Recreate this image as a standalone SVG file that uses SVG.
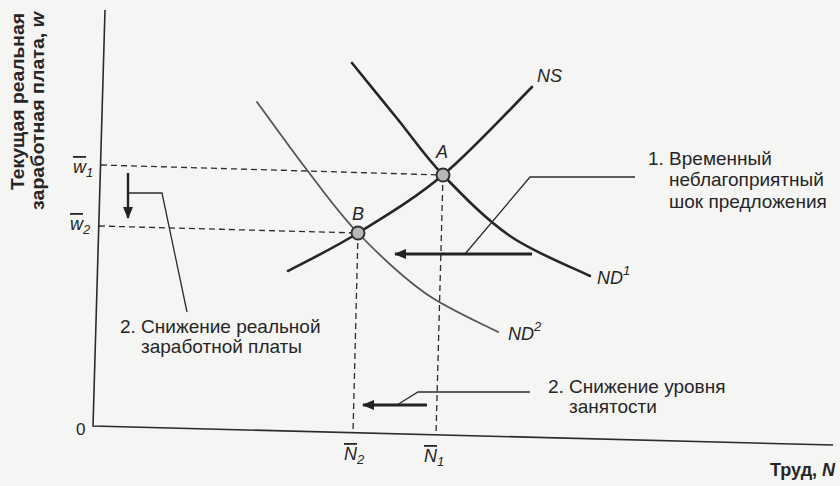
<svg xmlns="http://www.w3.org/2000/svg" width="840" height="486" viewBox="0 0 840 486">
<defs>
<style>
.bg{fill:#f5f5f4}
.axis{stroke:#2b2b2b;stroke-width:1.6;fill:none}
.dash{stroke:#2b2b2b;stroke-width:1.3;stroke-dasharray:6 4;fill:none}
.thick{stroke:#262626;stroke-width:2.6;fill:none;stroke-linecap:round}
.thin{stroke:#555;stroke-width:1.8;fill:none;stroke-linecap:round}
.lead{stroke:#2b2b2b;stroke-width:1.3;fill:none}
.arr{stroke:#222;stroke-width:3.2;fill:none}
.arr2{stroke:#222;stroke-width:2.4;fill:none}
.pt{fill:#b8b8b8;stroke:#333;stroke-width:2}
text{font-family:"Liberation Sans",Arial,sans-serif;fill:#262626}
.lbl{font-size:19px}
.it{font-style:italic;font-size:18px}
.bold{font-weight:bold}
</style>
<marker id="ah" viewBox="0 0 12 10" refX="11" refY="5" markerWidth="13" markerHeight="10" markerUnits="userSpaceOnUse" orient="auto">
<path d="M0,0 L12,5 L0,10 z" fill="#222"/>
</marker>
</defs>
<rect class="bg" x="0" y="0" width="840" height="486"/>

<g id="axes">
<polyline class="axis" points="105,10 93,426 833,445"/>
<text x="76" y="435" font-size="17">0</text>
<text class="bold" font-size="18" transform="translate(24,190) rotate(-90)" textLength="177" lengthAdjust="spacingAndGlyphs">Текущая реальная</text>
<text class="bold" font-size="18" transform="translate(44,210) rotate(-90)" textLength="198" lengthAdjust="spacingAndGlyphs">заработная плата, <tspan font-style="italic">w</tspan></text>
<text class="bold" font-size="18" x="770" y="476">Труд, <tspan font-style="italic">N</tspan></text>
</g>

<g id="tick-labels">
<text class="it" x="73" y="173"><tspan text-decoration="overline">w</tspan><tspan font-size="13" dy="4">1</tspan></text>
<text class="it" x="70" y="230"><tspan text-decoration="overline">w</tspan><tspan font-size="13" dy="4">2</tspan></text>
<text class="it" x="344" y="460"><tspan text-decoration="overline">N</tspan><tspan font-size="13" dy="4">2</tspan></text>
<text class="it" x="424" y="462"><tspan text-decoration="overline">N</tspan><tspan font-size="13" dy="4">1</tspan></text>
</g>

<g id="connectors">
<line class="dash" x1="101" y1="165" x2="443" y2="175"/>
<line class="dash" x1="99" y1="226" x2="358" y2="233"/>
<line class="dash" x1="443" y1="175" x2="436" y2="435"/>
<line class="dash" x1="358" y1="233" x2="353" y2="433"/>
<polyline class="lead" points="635,177 530,177 465,254"/>
<line class="arr" x1="532" y1="254" x2="395" y2="254" marker-end="url(#ah)"/>
<polyline class="lead" points="128,193 162,193 187,312"/>
<line class="arr2" x1="128" y1="173" x2="128" y2="218" marker-end="url(#ah)"/>
<polyline class="lead" points="530,392 418,392 397,405"/>
<line class="arr" x1="427" y1="405" x2="363" y2="405" marker-end="url(#ah)"/>
</g>

<g id="ND2">
<path class="thin" d="M257,102 C265.3,113.3 290.2,148.2 307,170 C323.8,191.8 338.3,212.5 358,233 C377.7,253.5 401.7,276.5 425,293 C448.3,309.5 485.8,325.3 498,332"/>
<text class="it" x="508" y="340">ND<tspan font-size="13" dy="-9">2</tspan></text>
</g>

<g id="ND1">
<path class="thick" d="M352,63 C359.6,72.3 382.3,100.3 397.5,119 C412.7,137.7 424.25,155.5 443,175 C461.75,194.5 485.5,219.2 510,236 C534.5,252.8 576.7,269.3 590,276"/>
<text class="it" x="597" y="284">ND<tspan font-size="13" dy="-9">1</tspan></text>
</g>

<g id="NS">
<path class="thick" d="M288,271 C299.7,264.7 332.2,249 358,233 C383.8,217 414,199.3 443,175 C472,150.7 517.2,101.7 532,87"/>
<text class="it" x="537" y="82">NS</text>
</g>

<g id="pointA">
<circle class="pt" cx="443" cy="175" r="6.5"/>
<text class="it" x="436" y="158" font-size="17">A</text>
</g>

<g id="pointB">
<circle class="pt" cx="358" cy="233" r="6.5"/>
<text class="it" x="352" y="220" font-size="17">B</text>
</g>

<g id="label-shock">
<text class="lbl" x="648" y="165">1. Временный</text>
<text class="lbl" x="669" y="186">неблагоприятный</text>
<text class="lbl" x="669" y="208">шок предложения</text>
</g>

<g id="label-wage">
<text class="lbl" x="120" y="333">2. Снижение реальной</text>
<text class="lbl" x="141" y="353">заработной платы</text>
</g>

<g id="label-employment">
<text class="lbl" x="548" y="393">2. Снижение уровня</text>
<text class="lbl" x="569" y="413">занятости</text>
</g>
</svg>
